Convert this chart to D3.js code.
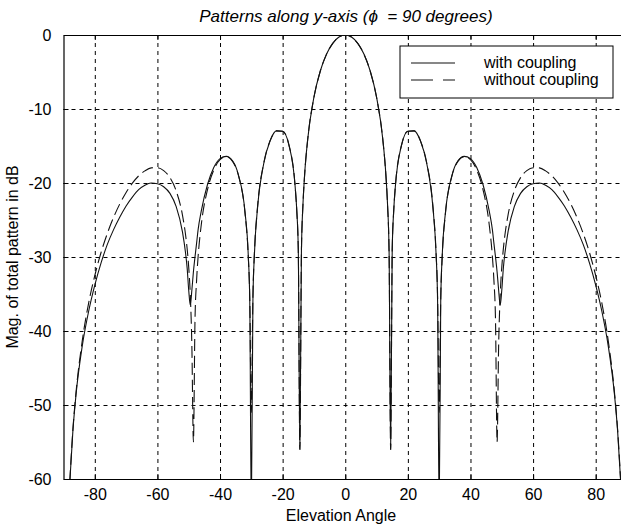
<!DOCTYPE html>
<html lang="en">

<head>
    <meta charset="UTF-8">
    <title>Patterns along y-axis</title>
    <script src="https://d3js.org/d3.v7.min.js"></script>
    <style>
        html, body {
            margin: 0;
            padding: 0;
            background: #fff;
        }

        svg {
            display: block;
            overflow: hidden;
        }

        text {
            font-family: "Liberation Sans", Arial, Helvetica, sans-serif;
            fill: #000;
        }

        .grid line {
            stroke: #000;
            stroke-width: 1px;
            stroke-dasharray: 4, 4;
        }

        .curve {
            fill: none;
            stroke: #111;
            stroke-width: 1.1px;
        }
    </style>
</head>

<body>
    <div id="chart"></div>

    <script>
        // elevation angles (degrees)
        const angles = [
            -88, -87, -86, -84, -82, -80, -78, -76, -74, -72, -70, -68, -66, -64, -62, -60, -58, -56, -54, -52,
            -51, -50.5, -50, -49.5, -49, -48.5, -48, -47.5, -47, -46, -44, -42, -40, -38, -36, -34, -32, -31,
            -30.5, -30, -29.5, -29, -28, -26, -24, -22, -20, -18, -16, -15.5, -15, -14.5, -14, -13.5, -13, -12,
            -10, -8, -6, -4, -2, 0,
            2, 4, 6, 8, 10, 12, 13, 13.5, 14, 14.5, 15, 15.5, 16, 18, 20, 22, 24, 26, 28, 29, 29.5, 30, 30.5,
            31, 32, 34, 36, 38, 40, 42, 44, 46, 47, 47.5, 48, 48.5, 49, 49.5, 50, 50.5, 51, 52, 54, 56, 58, 60,
            62, 64, 66, 68, 70, 72, 74, 76, 78, 80, 82, 84, 86, 87, 88
        ];

        // total pattern in dB, with mutual coupling (solid)
        const withCoupling = [
            -60.5, -53.5, -48.6, -42.0, -37.4, -33.8, -30.8, -28.3, -26.3, -24.6, -23.1, -21.9, -20.9, -20.3, -20.0, -20.1, -20.5, -21.4, -23.2, -26.6,
            -29.5, -31.5, -34.5, -36.5, -34.5, -32.0, -30.0, -28.2, -26.3, -23.8, -20.2, -17.9, -16.7, -16.4, -17.0, -19.1, -24.0, -29.6,
            -36.0, -65.0, -36.0, -29.5, -23.3, -17.3, -14.3, -12.95, -13.0, -14.85, -20.5, -23.6, -29.0, -56.0, -29.2, -22.8, -19.0, -14.1,
            -8.4, -4.9, -2.6, -1.13, -0.28, 0,
            -0.28, -1.13, -2.6, -4.9, -8.4, -14.1, -19.0, -22.8, -29.2, -56.0, -29.0, -23.6, -20.5, -14.85, -13.0, -12.95, -14.3, -17.3, -23.3, -29.5, -36.0, -65.0, -36.0,
            -29.6, -24.0, -19.1, -17.0, -16.4, -16.7, -17.9, -20.2, -23.8, -26.3, -28.2, -30.0, -32.0, -34.5, -36.5, -34.5, -31.5, -29.5, -26.6, -23.2, -21.4, -20.5, -20.1,
            -20.0, -20.3, -20.9, -21.9, -23.1, -24.6, -26.3, -28.3, -30.8, -33.8, -37.4, -42.0, -48.6, -53.5, -60.5
        ];

        // total pattern in dB, without coupling (dashed)
        const withoutCoupling = [
            -60.4, -53.3, -48.3, -41.3, -36.3, -32.5, -29.39, -26.81, -24.64, -22.81, -21.28, -20.02, -19.04, -18.36, -17.96, -17.93, -18.32, -19.27, -21.07, -24.33,
            -27.03, -28.9, -31.4, -35.1, -41.9, -55.0, -38.6, -33.26, -29.94, -25.67, -20.89, -18.24, -16.84, -16.43, -17.08, -19.18, -24.14, -29.77,
            -35.6, -51.0, -35.4, -29.28, -23.13, -17.23, -14.28, -12.95, -13.01, -14.85, -20.5, -23.63, -29.1, -56.0, -29.3, -22.86, -19.07, -14.15,
            -8.41, -4.93, -2.62, -1.13, -0.28, 0,
            -0.28, -1.13, -2.62, -4.93, -8.41, -14.15, -19.07, -22.86, -29.3, -56.0, -29.1, -23.63, -20.5, -14.85, -13.01, -12.95, -14.28, -17.23, -23.13, -29.28, -35.4, -51.0, -35.6,
            -29.77, -24.14, -19.18, -17.08, -16.43, -16.84, -18.24, -20.89, -25.67, -29.94, -33.26, -38.6, -55.0, -41.9, -35.1, -31.4, -28.9, -27.03, -24.33, -21.07, -19.27, -18.32, -17.93,
            -17.96, -18.36, -19.04, -20.02, -21.28, -22.81, -24.64, -26.81, -29.39, -32.5, -36.3, -41.3, -48.3, -53.3, -60.4
        ];

        const xTicks = [-80, -60, -40, -20, 0, 20, 40, 60, 80];
        const yTicks = [0, -10, -20, -30, -40, -50, -60];
        const seriesNames = ["with coupling", "without coupling"];
        const titleText = "Patterns along y-axis (\u03D5  = 90 degrees)";
        const xLabel = "Elevation Angle";
        const yLabel = "Mag. of total pattern in dB";

        // layout
        const width = 621;
        const height = 527;
        const margin = { top: 35, left: 63.5, bottom: 48, right: -6 };
        const plotW = width - margin.left - margin.right;
        const plotH = height - margin.top - margin.bottom;

        const x = d3.scaleLinear().domain([-90, 90]).range([0, plotW]);
        const y = d3.scaleLinear().domain([-60, 0]).range([plotH, 0]);

        // plain hyphen for negative numbers, like the original
        const fmt = d => String(d);

        const svg = d3.select("#chart").append("svg")
            .attr("width", width)
            .attr("height", height);

        const g = svg.append("g")
            .attr("transform", `translate(${margin.left},${margin.top})`);

        g.append("defs").append("clipPath")
            .attr("id", "plot-clip")
            .append("rect")
            .attr("width", plotW)
            .attr("height", plotH);

        // grid
        const grid = g.append("g").attr("class", "grid");
        grid.selectAll(".vg")
            .data(xTicks)
            .enter().append("line")
            .attr("x1", d => x(d) + 0.5).attr("x2", d => x(d) + 0.5)
            .attr("y1", 0).attr("y2", plotH);
        grid.selectAll(".hg")
            .data(yTicks.filter(d => d !== 0 && d !== -60))
            .enter().append("line")
            .attr("x1", 0).attr("x2", plotW)
            .attr("y1", d => y(d) + 0.5).attr("y2", d => y(d) + 0.5);

        // axes (ticks inward, as in MATLAB)
        const tickLen = 5;
        const xAxisB = g.append("g")
            .attr("transform", `translate(0,${plotH})`)
            .call(d3.axisBottom(x).tickValues(xTicks).tickFormat(fmt).tickSizeInner(-tickLen).tickSizeOuter(0).tickPadding(10));
        const xAxisT = g.append("g")
            .call(d3.axisTop(x).tickValues(xTicks).tickSizeInner(-tickLen).tickSizeOuter(0).tickFormat(""));
        const yAxisL = g.append("g")
            .call(d3.axisLeft(y).tickValues(yTicks).tickFormat(fmt).tickSizeInner(-tickLen).tickSizeOuter(0).tickPadding(12));
        const yAxisR = g.append("g")
            .attr("transform", `translate(${plotW},0)`)
            .call(d3.axisRight(y).tickValues(yTicks).tickSizeInner(-tickLen).tickSizeOuter(0).tickFormat(""));

        [xAxisB, xAxisT, yAxisL, yAxisR].forEach(a => {
            a.select(".domain").attr("stroke", "#000").attr("stroke-width", 1.2);
            a.selectAll(".tick line").attr("stroke", "#000");
            a.selectAll("text")
                .style("font-family", "'Liberation Sans', Arial, sans-serif")
                .style("font-size", "16px")
                .attr("fill", "#000");
        });
        xAxisB.selectAll("text").attr("dy", "0.71em");

        // curves
        const line = d3.line()
            .x((d, i) => x(angles[i]))
            .y(d => y(d))
            .curve(d3.curveMonotoneX);

        const curves = g.append("g").attr("clip-path", "url(#plot-clip)");
        curves.append("path")
            .datum(withoutCoupling)
            .attr("class", "curve")
            .attr("stroke-dasharray", "12,5")
            .attr("d", line);
        curves.append("path")
            .datum(withCoupling)
            .attr("class", "curve")
            .attr("d", line);

        // title and labels
        svg.append("text")
            .attr("x", 346)
            .attr("y", 22)
            .attr("text-anchor", "middle")
            .style("font-size", "17px")
            .style("font-style", "italic")
            .style("white-space", "pre")
            .text(titleText);

        svg.append("text")
            .attr("x", 341)
            .attr("y", 521)
            .attr("text-anchor", "middle")
            .style("font-size", "16px")
            .text(xLabel);

        svg.append("text")
            .attr("transform", `translate(18,${margin.top + plotH / 2}) rotate(-90)`)
            .attr("text-anchor", "middle")
            .style("font-size", "16px")
            .text(yLabel);

        // legend
        const legend = svg.append("g").attr("transform", "translate(400,46)");
        legend.append("rect")
            .attr("width", 213)
            .attr("height", 52)
            .attr("fill", "#fff")
            .attr("stroke", "#000")
            .attr("stroke-width", 1);

        const items = legend.selectAll(".item")
            .data(seriesNames)
            .enter().append("g")
            .attr("transform", (d, i) => `translate(0,${17 + i * 17})`);
        items.append("line")
            .attr("x1", 11).attr("x2", 55)
            .attr("stroke", "#111")
            .attr("stroke-width", 1.1)
            .attr("stroke-dasharray", (d, i) => i === 1 ? "22,10" : null);
        items.append("text")
            .attr("x", 84)
            .attr("y", 5)
            .style("font-size", "16px")
            .text(d => d);
    </script>
</body>

</html>
